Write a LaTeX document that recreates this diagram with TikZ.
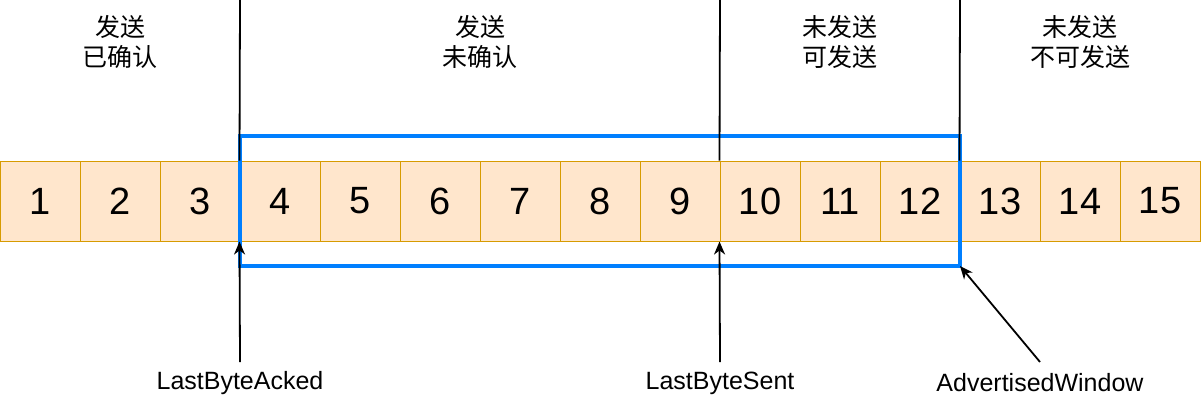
\documentclass[tikz,border=0pt]{standalone}
\usepackage{fontspec}
\setmainfont{Liberation Sans}
\newfontfamily\cjk{Noto Sans CJK SC}
\usetikzlibrary{arrows.meta}
\definecolor{cellfill}{HTML}{FFE6CC}
\definecolor{celldraw}{HTML}{D79B00}
\definecolor{winblue}{HTML}{007FFF}
\begin{document}
\begin{tikzpicture}[x=1pt,y=-1pt,
  cell/.style={draw=celldraw,fill=cellfill,line width=1pt,minimum width=80pt,minimum height=80pt,inner sep=0pt,font=\fontsize{38}{38}\selectfont},
  toplabel/.style={align=center,font=\cjk\fontsize{25}{30}\selectfont},
  botlabel/.style={font=\fontsize{25}{28}\selectfont},
  divider/.style={line width=1.8pt},
  pointer/.style={line width=1.8pt,-{Stealth[length=13pt,width=11pt,inset=4pt]}}]
\useasboundingbox (0,0) rectangle (1201,402);
\foreach \i in {1,...,15}{
  \node[cell] (c\i) at ({80*\i-40},201) {\i};
}
\draw[winblue,line width=3.5pt] (240,136) rectangle (960,266);
\coordinate (w) at (960,266);
% dividers
\coordinate (t1) at (240,0); \coordinate (t2) at (720,0); \coordinate (t3) at (960,0);
\draw[divider] (t1) -- (c4.north west);
\draw[divider] (t2) -- (c10.north west);
\draw[divider] (t3) -- (c13.north west);
% top labels
\node[toplabel] (l1) at (120,42) {发送\\已确认};
\node[toplabel] (l2) at (480,42) {发送\\未确认};
\node[toplabel] (l3) at (840,42) {未发送\\可发送};
\node[toplabel] (l4) at (1080,42) {未发送\\不可发送};
% bottom labels
\node[botlabel] (b1) at (240,383) {LastByteAcked};
\node[botlabel] (b2) at (720,383) {LastByteSent};
\node[botlabel] (b3) at (1040,383) {AdvertisedWindow};
\draw[pointer] (240,362) -- (c4.south west);
\draw[pointer] (720,362) -- (c10.south west);
\draw[pointer] (1040,362) -- (w);
\end{tikzpicture}
\end{document}
